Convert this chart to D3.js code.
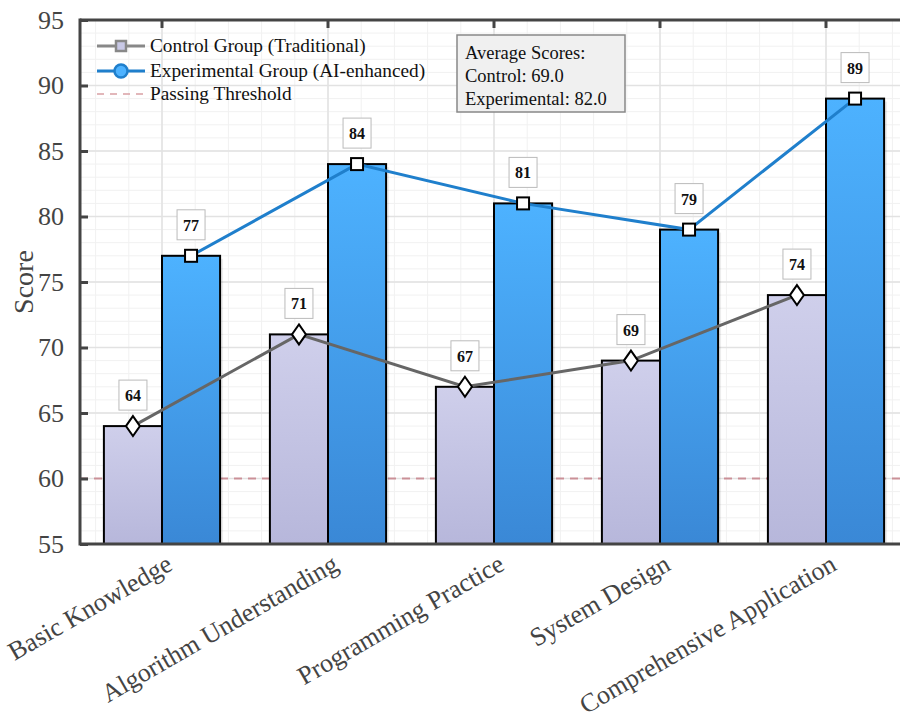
<!DOCTYPE html>
<html>
<head>
<meta charset="utf-8">
<script src="https://cdn.jsdelivr.net/npm/d3@7/dist/d3.min.js"></script>
<style>
  html, body { margin: 0; padding: 0; background: #fff; }
  svg { display: block; font-family: "Liberation Serif", "Times New Roman", serif; }
</style>
</head>
<body>
<svg id="chart" width="900" height="720"></svg>
<script>
// Course module scores for the two teaching groups
const categories = ["Basic Knowledge", "Algorithm Understanding", "Programming Practice", "System Design", "Comprehensive Application"];
const controlScores = [64, 71, 67, 69, 74];
const experimentalScores = [77, 84, 81, 79, 89];
const yTicks = [55, 60, 65, 70, 75, 80, 85, 90, 95];
const passingThreshold = 60;
const seriesNames = ["Control Group (Traditional)", "Experimental Group (AI-enhanced)", "Passing Threshold"];

const svg = d3.select("#chart");
const W = 900, H = 720;
const plot = { left: 80, right: 909, top: 20, bottom: 544 };

const x = d3.scaleBand().domain(categories).range([plot.left - 1, plot.right]).padding(0);
const y = d3.scaleLinear().domain([55, 95]).range([plot.bottom, plot.top]);
const barW = x.bandwidth() * 0.35;
const cx = c => x(c) + x.bandwidth() / 2;

// gradients
const defs = svg.append("defs");
const gCtrl = defs.append("linearGradient").attr("id", "gCtrl").attr("x1", 0).attr("y1", 0).attr("x2", 0).attr("y2", 1);
gCtrl.append("stop").attr("offset", "0%").attr("stop-color", "#cfcfeb");
gCtrl.append("stop").attr("offset", "100%").attr("stop-color", "#b7b7db");
const gExp = defs.append("linearGradient").attr("id", "gExp").attr("x1", 0).attr("y1", 0).attr("x2", 0).attr("y2", 1);
gExp.append("stop").attr("offset", "0%").attr("stop-color", "#4db2ff");
gExp.append("stop").attr("offset", "100%").attr("stop-color", "#3a88d6");
defs.append("clipPath").attr("id", "plotClip").append("rect")
  .attr("x", plot.left).attr("y", plot.top).attr("width", plot.right - plot.left).attr("height", plot.bottom - plot.top);

const g = svg.append("g").attr("clip-path", "url(#plotClip)");

// minor grid
const minorY = d3.range(55, 95.01, 1);
g.selectAll(".minY").data(minorY).join("line")
  .attr("x1", plot.left).attr("x2", plot.right).attr("y1", d => y(d)).attr("y2", d => y(d))
  .attr("stroke", "#f1f1f1").attr("stroke-width", 1);
const minorX = [];
categories.forEach(c => { for (let k = -2; k <= 2; k++) minorX.push(cx(c) + k * x.bandwidth() / 5); });
minorX.push(x(categories[0]));
g.selectAll(".minX").data(minorX).join("line")
  .attr("x1", d => d).attr("x2", d => d).attr("y1", plot.top).attr("y2", plot.bottom)
  .attr("stroke", "#f1f1f1").attr("stroke-width", 1);
// major grid
g.selectAll(".majY").data(yTicks).join("line")
  .attr("x1", plot.left).attr("x2", plot.right).attr("y1", d => y(d)).attr("y2", d => y(d))
  .attr("stroke", "#e2e2e2").attr("stroke-width", 1.5);
g.selectAll(".majX").data(categories).join("line")
  .attr("x1", d => cx(d)).attr("x2", d => cx(d)).attr("y1", plot.top).attr("y2", plot.bottom)
  .attr("stroke", "#e2e2e2").attr("stroke-width", 1.5);

// threshold
g.append("line")
  .attr("x1", plot.left).attr("x2", plot.right).attr("y1", y(passingThreshold)).attr("y2", y(passingThreshold))
  .attr("stroke", "#c47c84").attr("stroke-opacity", 0.8).attr("stroke-width", 1.8).attr("stroke-dasharray", "8,6");

// bars with soft shadow
const bars = [
  { vals: controlScores, off: -barW, fill: "url(#gCtrl)" },
  { vals: experimentalScores, off: 0, fill: "url(#gExp)" }
];
bars.forEach(b => {
  g.selectAll(null).data(categories).join("rect")
    .attr("x", (c) => cx(c) + b.off + 3).attr("y", (c, i) => y(b.vals[i]) + 3)
    .attr("width", barW).attr("height", (c, i) => plot.bottom - y(b.vals[i]))
    .attr("fill", "#000").attr("opacity", 0.07);
});
bars.forEach(b => {
  g.selectAll(null).data(categories).join("rect")
    .attr("x", (c) => cx(c) + b.off).attr("y", (c, i) => y(b.vals[i]))
    .attr("width", barW).attr("height", (c, i) => plot.bottom - y(b.vals[i]))
    .attr("fill", b.fill).attr("stroke", "#000").attr("stroke-width", 2);
});

// trend lines
const ctrlPts = categories.map((c, i) => [cx(c) - barW / 2, y(controlScores[i])]);
const expPts = categories.map((c, i) => [cx(c) + barW / 2, y(experimentalScores[i])]);
const line = d3.line();
g.append("path").attr("d", line(ctrlPts)).attr("fill", "none").attr("stroke", "#666").attr("stroke-width", 3);
g.append("path").attr("d", line(expPts)).attr("fill", "none").attr("stroke", "#1f7fcc").attr("stroke-width", 3);

// markers
g.selectAll(".dm").data(ctrlPts).join("path")
  .attr("d", d => `M${d[0]},${d[1] - 10}L${d[0] + 7},${d[1]}L${d[0]},${d[1] + 10}L${d[0] - 7},${d[1]}Z`)
  .attr("fill", "#fff").attr("stroke", "#000").attr("stroke-width", 2);
g.selectAll(".sq").data(expPts).join("rect")
  .attr("x", d => d[0] - 6).attr("y", d => d[1] - 6).attr("width", 12).attr("height", 12)
  .attr("fill", "#fff").attr("stroke", "#000").attr("stroke-width", 2);

// value labels
function valueLabels(pts, vals) {
  const lg = svg.append("g");
  pts.forEach((p, i) => {
    const by = p[1] - 31;
    lg.append("rect").attr("x", p[0] - 14).attr("y", by - 15).attr("width", 28).attr("height", 30)
      .attr("fill", "#fff").attr("stroke", "#bbb").attr("stroke-width", 1);
    lg.append("text").attr("x", p[0]).attr("y", by + 6).attr("text-anchor", "middle")
      .attr("font-size", 16).attr("font-weight", "bold").attr("fill", "#111").text(vals[i]);
  });
}
valueLabels(ctrlPts, controlScores);
valueLabels(expPts, experimentalScores);

// axes / spines
const axisColor = "#444";
svg.append("line").attr("x1", plot.left).attr("x2", W).attr("y1", plot.top).attr("y2", plot.top).attr("stroke", axisColor).attr("stroke-width", 3);
svg.append("line").attr("x1", plot.left).attr("x2", W).attr("y1", plot.bottom).attr("y2", plot.bottom).attr("stroke", axisColor).attr("stroke-width", 3);
svg.append("line").attr("x1", plot.left).attr("x2", plot.left).attr("y1", plot.top - 1.5).attr("y2", plot.bottom + 1.5).attr("stroke", axisColor).attr("stroke-width", 3);

const yAxis = d3.axisLeft(y).tickValues(yTicks).tickSizeInner(-8).tickSizeOuter(0).tickPadding(16);
const ya = svg.append("g").attr("transform", `translate(${plot.left},0)`).call(yAxis);
ya.select(".domain").remove();
ya.selectAll(".tick line").attr("stroke", axisColor).attr("stroke-width", 3);
ya.selectAll(".tick text").attr("font-size", 26).attr("fill", "#444").attr("font-family", "Liberation Serif, serif");

// top ticks at category centres
svg.selectAll(".tt").data(categories).join("line")
  .attr("x1", d => cx(d)).attr("x2", d => cx(d)).attr("y1", plot.top).attr("y2", plot.top + 8)
  .attr("stroke", axisColor).attr("stroke-width", 3);

// x labels
svg.selectAll(".xl").data(categories).join("text")
  .attr("transform", d => `translate(${cx(d) + 12},${plot.bottom + 25}) rotate(-30)`)
  .attr("text-anchor", "end").attr("font-size", 26).attr("fill", "#444").text(d => d);

// y title
svg.append("text").attr("transform", `translate(33,${(plot.top + plot.bottom) / 2}) rotate(-90)`)
  .attr("text-anchor", "middle").attr("font-size", 28).attr("fill", "#444").text("Score");

// legend
const leg = svg.append("g");
const rows = [46, 71, 94];
leg.append("line").attr("x1", 97).attr("x2", 145).attr("y1", rows[0]).attr("y2", rows[0]).attr("stroke", "#888").attr("stroke-width", 3);
leg.append("rect").attr("x", 116).attr("y", rows[0] - 5).attr("width", 10).attr("height", 10).attr("fill", "#c8c8e6").attr("stroke", "#888").attr("stroke-width", 2.5);
leg.append("line").attr("x1", 97).attr("x2", 145).attr("y1", rows[1]).attr("y2", rows[1]).attr("stroke", "#1f7fcc").attr("stroke-width", 3);
leg.append("circle").attr("cx", 121).attr("cy", rows[1]).attr("r", 6.5).attr("fill", "#4db2ff").attr("stroke", "#1f7fcc").attr("stroke-width", 2.5);
leg.append("line").attr("x1", 97).attr("x2", 145).attr("y1", rows[2]).attr("y2", rows[2]).attr("stroke", "#d9a0a4").attr("stroke-width", 1.5).attr("stroke-dasharray", "7,6");
seriesNames.forEach((n, i) => {
  leg.append("text").attr("x", 150).attr("y", rows[i] + 6).attr("font-size", 19.3).attr("fill", "#111").text(n);
});

// averages box
const avgC = d3.mean(controlScores), avgE = d3.mean(experimentalScores);
const box = svg.append("g");
box.append("rect").attr("x", 457).attr("y", 35).attr("width", 168).attr("height", 77)
  .attr("fill", "#f0f0f0").attr("stroke", "#888").attr("stroke-width", 1.5);
["Average Scores:", `Control: ${avgC.toFixed(1)}`, `Experimental: ${avgE.toFixed(1)}`].forEach((t, i) => {
  box.append("text").attr("x", 465).attr("y", 59 + i * 23).attr("font-size", 18.5).attr("fill", "#111").text(t);
});
</script>
</body>
</html>
